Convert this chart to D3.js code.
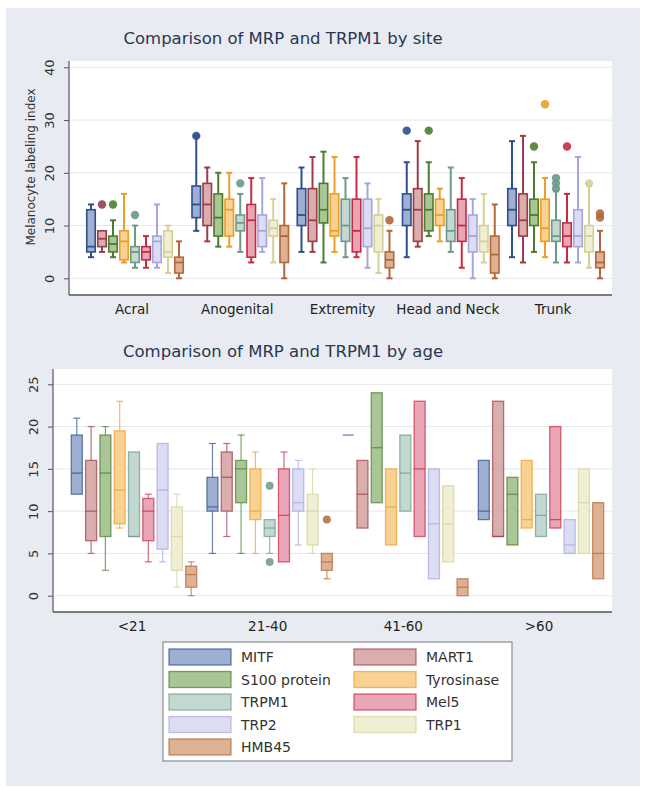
<!DOCTYPE html>
<html><head><meta charset="utf-8">
<script src="https://cdn.jsdelivr.net/npm/d3@7"></script>
<style>
html,body{margin:0;padding:0;background:#fff;}
svg{display:block;}
text{font-family:"DejaVu Sans",Verdana,sans-serif;}
</style></head><body>
<svg id="chart" width="645" height="790"></svg>
<script>
// ---------- DATA ----------
const seriesNames = ["MITF","MART1","S100 protein","Tyrosinase","TRPM1","Mel5","TRP2","TRP1","HMB45"];
const siteCategories = ["Acral","Anogenital","Extremity","Head and Neck","Trunk"];
const ageCategories = ["<21","21-40","41-60",">60"];
const siteTicks = [0,10,20,30,40];
const ageTicks = [0,5,10,15,20,25];

// [min, q1, median, q3, max] per series, in seriesNames order
const siteAcral = [[4,5,6,13,14],[5,6,7.5,9,9],[4,5,6.5,8,11],[3,3.5,7,9,16],[2,3,5,6,10],[2,3.5,5,6,8],[2,3,7,8,14],[1,4,5,9,10],[0,1,3,4,7]];
const siteAnogenital = [[9,11.5,14,17.5,27],[7,10,14,18,21],[6,8,11.5,16,20],[6,8,13,15,20],[5,9,10.5,12,16],[3,4,11,14,19],[5,6,9,12,19],[3,8,9.5,11,15],[0,3,8,10,18]];
const siteExtremity = [[5,10,12,17,21],[5,7,11,17,23],[3,10.5,13,18,24],[5,8,9,16,23],[4,7,10,15,19],[4,5,9,15,23],[2,6,9.5,15,18],[1,5,10,12,15],[0,2,3.5,5,9]];
const siteHeadNeck = [[4,10,13,16,22],[6,7,13,17,26],[8,9,13,16,22],[7,10,12,15,17],[5,7,9,13,21],[2,7,10,15,19],[0,5,8,12,15],[3,5,7,10,16],[0,1,4.5,8,14]];
const siteTrunk = [[4,10,13,17,26],[3,8,11,16,27],[5,10,12,15,22],[4,7,9.5,15,19],[3,7,8,11,16.5],[3,6,8,10.5,16],[3,6,8,13,23],[2,5,8,10,17.5],[0,2,3,5,9]];
// [category, series, value]
const siteOutliers = [["Acral","MART1",14],["Acral","S100 protein",14],["Acral","TRPM1",12],
  ["Anogenital","MITF",27],["Anogenital","TRPM1",18],["Extremity","HMB45",11],
  ["Head and Neck","MITF",28],["Head and Neck","S100 protein",28],
  ["Trunk","S100 protein",25],["Trunk","Tyrosinase",33],["Trunk","TRPM1",17],["Trunk","TRPM1",18],["Trunk","TRPM1",19],
  ["Trunk","Mel5",25],["Trunk","TRP1",18],["Trunk","HMB45",11.5],["Trunk","HMB45",12.3]];

const ageU21 = [[12,12,14.5,19,21],[5,6.5,10,16,20],[3,7,14.5,19,20],[8,8.5,12.5,19.5,23],[7,7,7,17,17],[4,6.5,10,11.5,12],[4,5.5,12.5,18,18],[1,3,7,10.5,12],[0,1,2.5,3.5,4]];
const age21to40 = [[5,10,10.5,14,18],[7,10,14,17,18],[5,11,15,16,19],[5,9,10,15,17],[5,7,8,9,9],[4,4,9.5,15,17],[6,10,11,15,16],[5,6,10,12,15],[2,3,4,5,5]];
const age41to60 = [[19,19,19,19,19],[8,8,12,16,16],[11,11,17.5,24,24],[6,6,10.5,15,15],[10,10,14.5,19,19],[7,7,15,23,23],[2,2,8.5,15,15],[4,4,8.5,13,13],[0,0,1,2,2]];
const ageOver60 = [[9,9,10,16,16],[7,7,7,23,23],[6,6,12,14,14],[8,8,9,16,16],[7,7,9.5,12,12],[8,8,9,20,20],[5,5,6,9,9],[5,5,11,15,15],[2,2,5,11,11]];
const ageOutliers = [["21-40","TRPM1",13],["21-40","TRPM1",4],["21-40","HMB45",9]];

// ---------- STYLE ----------
const strokeColors = ["#2f4f8c","#9a3c4a","#4c7d2e","#eb9f28","#6d998a","#c82a42","#a6a6dc","#d4d097","#b3673a"];
const fillColors   = ["#9eb0d2","#dbaeae","#aac596","#f8d193","#c2d8d1","#e8a6b6","#dcdcf4","#f0efd4","#deb193"];

const svg = d3.select("#chart");
svg.append("rect").attr("x",6).attr("y",8).attr("width",634).attr("height",778).attr("fill","#e8ecf2");

function drawPanel(cfg){
  const g = svg.append("g");
  g.append("rect").attr("x",cfg.left).attr("y",cfg.top).attr("width",cfg.right-cfg.left).attr("height",cfg.bottom-cfg.top).attr("fill","#fff");
  const y = d3.scaleLinear().domain(cfg.yDomain).range(cfg.yRange);
  const x = d3.scalePoint().domain(cfg.categories).range(cfg.xRange);
  const off = d3.scaleLinear().domain([0, seriesNames.length-1]).range([-4*cfg.step, 4*cfg.step]);
  g.selectAll(".grid").data(cfg.ticks).join("line")
    .attr("x1",cfg.left).attr("x2",cfg.right).attr("y1",d=>y(d)).attr("y2",d=>y(d))
    .attr("stroke","#e4e8ee").attr("stroke-width",1);
  const ax = g.append("g").attr("transform",`translate(${cfg.left},0)`)
    .call(d3.axisLeft(y).tickValues(cfg.ticks).tickSize(5).tickSizeOuter(0));
  ax.select(".domain").remove();
  ax.selectAll(".tick line").attr("stroke","#555");
  ax.selectAll(".tick text").attr("x",null).attr("dy",null)
    .attr("transform","translate(-19,0) rotate(-90)").attr("text-anchor","middle").attr("dominant-baseline","middle")
    .attr("font-size",13).attr("fill","#333").attr("font-family","DejaVu Sans, sans-serif");
  g.append("line").attr("x1",cfg.left).attr("x2",cfg.left).attr("y1",cfg.top).attr("y2",cfg.bottom).attr("stroke","#555").attr("stroke-width",1.2);
  g.append("line").attr("x1",cfg.left).attr("x2",cfg.right).attr("y1",cfg.bottom).attr("y2",cfg.bottom).attr("stroke","#555").attr("stroke-width",1.5);
  g.selectAll(".cat").data(cfg.categories).join("text")
    .attr("x",d=>x(d)+cfg.labelShift).attr("y",cfg.bottom+19).attr("text-anchor","middle")
    .attr("font-size",13.5).attr("fill","#222").text(d=>d);
  g.append("text").attr("x",cfg.titleX).attr("y",cfg.titleY).attr("text-anchor","middle")
    .attr("font-size",16.5).attr("fill","#2b3650").text(cfg.title);
  const bw = cfg.boxW, cw = cfg.capW;
  cfg.categories.forEach((cat,ci)=>{
    cfg.stats[ci].forEach((s,si)=>{
      const cx = x(cat)+off(si);
      const [mn,q1,md,q3,mx] = s;
      const col = strokeColors[si];
      const bg = g.append("g").attr("stroke-opacity",cfg.strokeOpacity);
      if (mx>q3){
        bg.append("line").attr("x1",cx).attr("x2",cx).attr("y1",y(q3)).attr("y2",y(mx)).attr("stroke",col).attr("stroke-width",cfg.whiskerW);
        bg.append("line").attr("x1",cx-cw/2).attr("x2",cx+cw/2).attr("y1",y(mx)).attr("y2",y(mx)).attr("stroke",col).attr("stroke-width",cfg.whiskerW);
      }
      if (mn<q1){
        bg.append("line").attr("x1",cx).attr("x2",cx).attr("y1",y(q1)).attr("y2",y(mn)).attr("stroke",col).attr("stroke-width",cfg.whiskerW);
        bg.append("line").attr("x1",cx-cw/2).attr("x2",cx+cw/2).attr("y1",y(mn)).attr("y2",y(mn)).attr("stroke",col).attr("stroke-width",cfg.whiskerW);
      }
      bg.append("rect").attr("x",cx-bw/2).attr("y",y(q3)).attr("width",bw).attr("height",Math.max(0,y(q1)-y(q3)))
        .attr("fill",fillColors[si]).attr("stroke",col).attr("stroke-width",cfg.boxStroke);
      bg.append("line").attr("x1",cx-bw/2).attr("x2",cx+bw/2).attr("y1",y(md)).attr("y2",y(md)).attr("stroke",col).attr("stroke-width",cfg.medW);
    });
  });
  g.selectAll(".out").data(cfg.outliers).join("circle")
    .attr("cx",d=>x(d[0])+off(seriesNames.indexOf(d[1])))
    .attr("cy",d=>y(d[2])).attr("r",cfg.dotR)
    .attr("fill",d=>strokeColors[seriesNames.indexOf(d[1])])
    .attr("fill-opacity",cfg.dotOpacity);
  return g;
}

drawPanel({
  left:69, right:612, top:61, bottom:295,
  yDomain:[0,40], yRange:[278.3,67.3], ticks:siteTicks,
  categories:siteCategories, xRange:[135,556], step:11, labelShift:-3,
  stats:[siteAcral,siteAnogenital,siteExtremity,siteHeadNeck,siteTrunk],
  outliers:siteOutliers,
  boxW:8.5, capW:6, whiskerW:2, boxStroke:1.6, medW:1.8, strokeOpacity:1, dotR:4.2, dotOpacity:0.9,
  title:"Comparison of MRP and TRPM1 by site", titleX:283, titleY:44
});
svg.append("text").attr("transform","translate(35,167) rotate(-90)").attr("text-anchor","middle")
  .attr("font-size",12).attr("fill","#333").text("Melanocyte labeling index");

drawPanel({
  left:53, right:612, top:369, bottom:612,
  yDomain:[0,25], yRange:[595.7,384.3], ticks:ageTicks,
  categories:ageCategories, xRange:[134,541], step:14.3, labelShift:-2,
  stats:[ageU21,age21to40,age41to60,ageOver60],
  outliers:ageOutliers,
  boxW:11, capW:7, whiskerW:1.2, boxStroke:1.3, medW:1.3, strokeOpacity:0.7, dotR:4, dotOpacity:0.85,
  title:"Comparison of MRP and TRPM1 by age", titleX:283, titleY:357
});

// ---------- LEGEND ----------
const lg = svg.append("g");
lg.append("rect").attr("x",163).attr("y",642).attr("width",349).attr("height",119)
  .attr("fill","#fff").attr("stroke","#8a8d92").attr("stroke-width",1.2);
const legendX = d3.scaleOrdinal().domain([0,1]).range([169,354]);
const legendY = d3.scaleLinear().domain([0,4]).range([657,747]);
seriesNames.forEach((n,i)=>{
  const col = i%2, row = Math.floor(i/2);
  lg.append("rect").attr("x",legendX(col)).attr("y",legendY(row)-8).attr("width",62).attr("height",16)
    .attr("fill",fillColors[i]).attr("stroke",strokeColors[i]).attr("stroke-opacity",0.7).attr("stroke-width",1.3);
  lg.append("text").attr("x",legendX(col)+72).attr("y",legendY(row)).attr("dominant-baseline","central")
    .attr("font-size",14).attr("fill","#333").text(n);
});
</script>
</body></html>
